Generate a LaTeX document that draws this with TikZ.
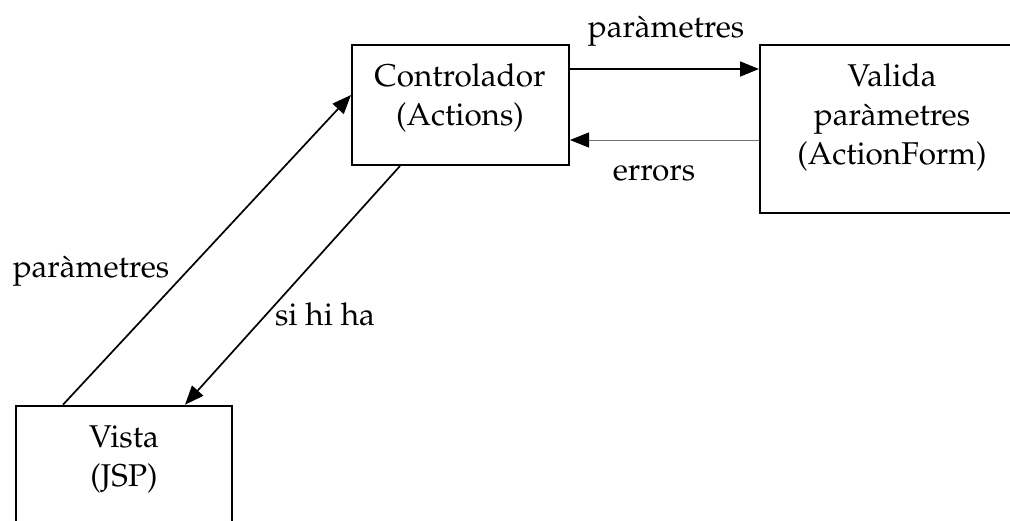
\documentclass[tikz,border=0pt]{standalone}
\usepackage[T1]{fontenc}
\renewcommand{\rmdefault}{ppl}
\usetikzlibrary{arrows.meta,calc}

\tikzset{
  box/.style={draw=black, line width=2pt, rectangle, inner sep=0pt},
  boxtext/.style={align=center, inner sep=0pt, anchor=north},
  lbl/.style={inner sep=0pt, anchor=base},
  arr/.style={line width=1.7pt, -{Triangle[length=19pt,width=15pt]}},
  thinarr/.style={line width=0.9pt, draw=black!55,
    -{Triangle[length=19pt,width=15pt,color=black,fill=black]}}
}

\begin{document}
\begin{tikzpicture}[x=1pt, y=-1pt,
  font=\fontsize{31.5}{39}\selectfont]
  \useasboundingbox (0,0) rectangle (1010,520);

  % boxes
  \node[box, minimum width=217pt, minimum height=120pt] (ctrl) at (460.5,105) {};
  \node[box, minimum width=264pt, minimum height=168pt] (valida) at (892,129) {};
  \node[box, minimum width=216pt, minimum height=134pt] (vista) at (124,472.7) {};

  % box contents
  \node[boxtext] (ctrltxt) at (460,64) {Controlador\\(Actions)};
  \node[boxtext] (validatxt) at (892,64) {Valida\\par\`ametres\\(ActionForm)};
  \node[boxtext] (vistatxt) at (124,425) {Vista\\(JSP)};

  % connectors
  \draw[arr] (ctrl.east |- 0,69) -- (valida.west |- 0,69);
  \draw[thinarr] (valida.west |- 0,140) -- (ctrl.east |- 0,140);
  \draw[arr] (63,0 |- vista.north) -- (ctrl.west |- 0,95);
  \draw[arr] (400,0 |- ctrl.south) -- (185,0 |- vista.north);

  % connector labels
  \node[lbl] (l1) at (666,37) {par\`ametres};
  \node[lbl] (l2) at (654,180) {errors};
  \node[lbl] (l3) at (91,277) {par\`ametres};
  \node[lbl] (l4) at (325,325) {si hi ha};
\end{tikzpicture}
\end{document}
